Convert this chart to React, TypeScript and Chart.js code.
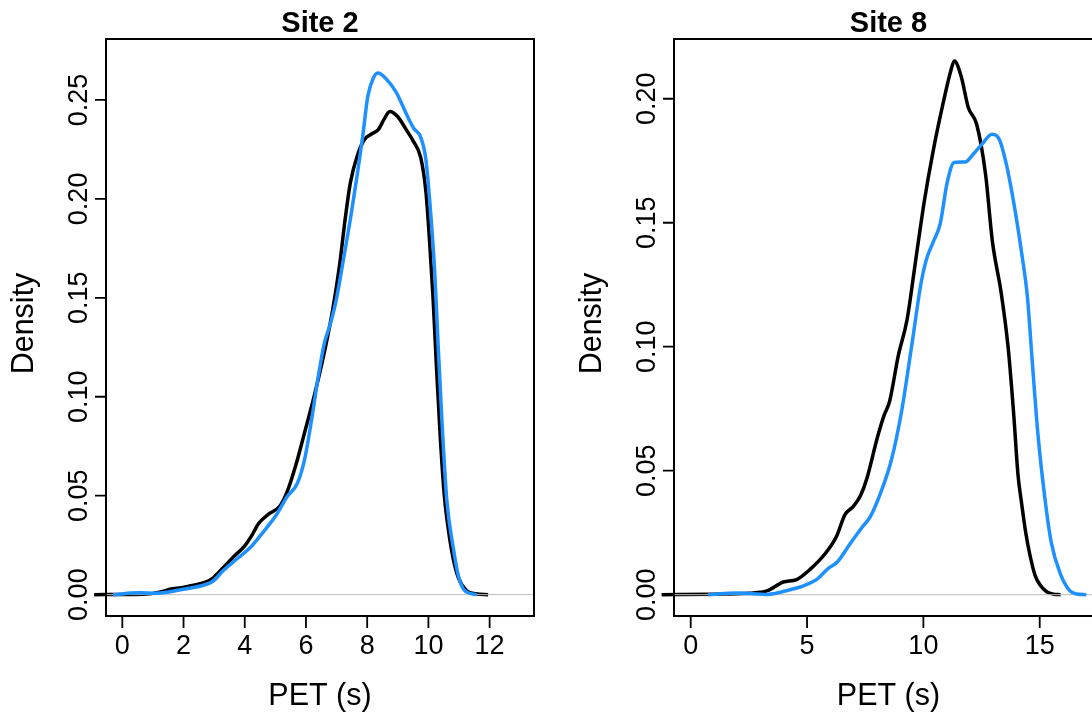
import React, { useEffect, useRef } from "react";
import { Chart, registerables } from "chart.js";

Chart.register(...registerables);

const FONT = '"Liberation Sans", Arial, Helvetica, sans-serif';
const BLUE = "#1E90FF";
const BLACK = "#000000";
const ZERO_LINE = "#BEBEBE";

// ---- Site 2: kernel density of PET (s) ----
const SITE2_BLACK_X = [-0.92, 0.3, 0.9, 1.3, 1.59, 1.93, 2.28, 2.74, 2.97, 3.31, 3.66, 4.0, 4.23, 4.46, 4.8, 5.15, 5.38, 5.67, 5.95, 6.3, 6.64, 6.87, 7.1, 7.28, 7.45, 7.68, 7.91, 8.14, 8.37, 8.54, 8.74, 9.0, 9.29, 9.52, 9.75, 9.92, 10.03, 10.15, 10.26, 10.38, 10.52, 10.66, 10.8, 10.98, 11.25, 11.55, 11.95];
const SITE2_BLACK_Y = [0, 0.0001, 0.0004, 0.0016, 0.0028, 0.0035, 0.0046, 0.0064, 0.0085, 0.0138, 0.0195, 0.0246, 0.0299, 0.0361, 0.0409, 0.0448, 0.0518, 0.0655, 0.0816, 0.1023, 0.1253, 0.1437, 0.1667, 0.1897, 0.2081, 0.2219, 0.23, 0.2328, 0.2351, 0.2399, 0.2442, 0.2415, 0.2346, 0.2288, 0.2208, 0.2035, 0.1805, 0.1506, 0.1161, 0.0816, 0.05, 0.032, 0.019, 0.0085, 0.002, 0.0004, 0];
const SITE2_BLUE_X = [-0.3, 0.55, 1.12, 1.99, 2.7, 2.97, 3.3, 3.77, 4.23, 4.57, 5.03, 5.38, 5.72, 5.95, 6.18, 6.41, 6.6, 6.8, 6.99, 7.22, 7.45, 7.68, 7.85, 8.02, 8.2, 8.35, 8.6, 8.94, 9.29, 9.52, 9.75, 9.92, 10.09, 10.21, 10.32, 10.44, 10.6, 10.82, 10.98, 11.2, 11.58];
const SITE2_BLUE_Y = [0, 0.0009, 0.0007, 0.0027, 0.005, 0.0069, 0.0122, 0.0184, 0.0246, 0.031, 0.0402, 0.0494, 0.0563, 0.068, 0.088, 0.111, 0.127, 0.137, 0.149, 0.169, 0.1897, 0.2127, 0.2311, 0.2518, 0.261, 0.2636, 0.261, 0.2541, 0.2426, 0.2357, 0.2311, 0.2196, 0.1897, 0.1621, 0.1253, 0.0885, 0.048, 0.0229, 0.0094, 0.0018, 0];
const SITE2_X_TICKS = [0, 2, 4, 6, 8, 10, 12];
const SITE2_Y_TICKS = [0, 0.05, 0.1, 0.15, 0.2, 0.25];

// ---- Site 8: kernel density of PET (s) ----
const SITE8_BLACK_X = [-1.25, 1.0, 2.5, 3.27, 3.98, 4.55, 5.13, 5.8, 6.27, 6.63, 6.99, 7.3, 7.57, 8.02, 8.3, 8.55, 8.92, 9.3, 9.67, 10.04, 10.42, 10.87, 11.17, 11.33, 11.62, 11.93, 12.29, 12.67, 12.97, 13.34, 13.64, 13.87, 14.07, 14.22, 14.4, 14.58, 14.8, 15.01, 15.3, 15.6, 15.9];
const SITE8_BLACK_Y = [0, 0.0002, 0.0006, 0.0015, 0.0051, 0.0061, 0.0102, 0.0168, 0.0236, 0.0323, 0.0356, 0.04, 0.0468, 0.0633, 0.072, 0.078, 0.0963, 0.111, 0.1349, 0.1587, 0.1789, 0.1991, 0.211, 0.2152, 0.2092, 0.1965, 0.1897, 0.1697, 0.1422, 0.122, 0.1, 0.0743, 0.048, 0.037, 0.025, 0.016, 0.0078, 0.004, 0.0012, 0.0002, 0];
const SITE8_BLUE_X = [0.75, 2.0, 3.3, 4.3, 4.9, 5.45, 5.9, 6.3, 6.85, 7.35, 7.72, 8.17, 8.62, 9.07, 9.52, 9.9, 10.12, 10.42, 10.72, 11.02, 11.32, 11.62, 11.8, 12.14, 12.52, 12.95, 13.27, 13.57, 13.94, 14.24, 14.47, 14.69, 14.92, 15.23, 15.5, 15.87, 16.3, 16.6, 17.0];
const SITE8_BLUE_Y = [0, 0.0007, 0.0001, 0.0021, 0.0038, 0.0064, 0.0105, 0.0132, 0.0205, 0.027, 0.0315, 0.0413, 0.0541, 0.0743, 0.1018, 0.1257, 0.1349, 0.1422, 0.1495, 0.1661, 0.1743, 0.1745, 0.1745, 0.1776, 0.1817, 0.1857, 0.1835, 0.1734, 0.155, 0.1367, 0.1202, 0.0927, 0.0651, 0.0383, 0.0209, 0.0088, 0.0015, 0.0003, 0];
const SITE8_X_TICKS = [0, 5, 10, 15];
const SITE8_Y_TICKS = [0, 0.05, 0.1, 0.15, 0.2];

const CANVAS_H = 715;

type PanelCfg = {
  title: string;
  canvasLeft: number;
  canvasWidth: number;
  boxLeft: number;
  boxRight: number;
  xMin: number;
  xMax: number;
  yMin: number;
  yMax: number;
  xTicks: number[];
  yTicks: number[];
  black: [number[], number[]];
  blue: [number[], number[]];
};

const PANELS: PanelCfg[] = [
  {
    title: "Site 2",
    canvasLeft: 0,
    canvasWidth: 546,
    boxLeft: 106,
    boxRight: 534,
    xMin: -0.533,
    xMax: 13.45,
    yMin: -0.0108,
    yMax: 0.2808,
    xTicks: SITE2_X_TICKS,
    yTicks: SITE2_Y_TICKS,
    black: [SITE2_BLACK_X, SITE2_BLACK_Y],
    blue: [SITE2_BLUE_X, SITE2_BLUE_Y],
  },
  {
    title: "Site 8",
    canvasLeft: 546,
    canvasWidth: 600,
    boxLeft: 128,
    boxRight: 557,
    xMin: -0.718,
    xMax: 17.72,
    yMin: -0.0086,
    yMax: 0.2241,
    xTicks: SITE8_X_TICKS,
    yTicks: SITE8_Y_TICKS,
    black: [SITE8_BLACK_X, SITE8_BLACK_Y],
    blue: [SITE8_BLUE_X, SITE8_BLUE_Y],
  },
];

const BOX_TOP = 39;
const BOX_BOTTOM = 616;

function toPoints(xs: number[], ys: number[]) {
  return xs.map((x, i) => ({ x, y: ys[i] }));
}

// Base-graphics style frame: box, outward ticks, rotated y labels, titles
function framePlugin(cfg: PanelCfg) {
  return {
    id: "baseFrame",
    afterDatasetDraw(chart: any, args: any) {
      // zero reference line sits above the first curve, below the second
      if (args.index !== 1) return;
      const { ctx, chartArea } = chart;
      const y0 = chart.scales.y.getPixelForValue(0);
      ctx.save();
      ctx.strokeStyle = ZERO_LINE;
      ctx.lineWidth = 1;
      ctx.beginPath();
      ctx.moveTo(chartArea.left, y0);
      ctx.lineTo(chartArea.right, y0);
      ctx.stroke();
      ctx.restore();
    },
    afterDraw(chart: any) {
      const { ctx, chartArea } = chart;
      const xs = chart.scales.x;
      const ys = chart.scales.y;
      const { left, right, top, bottom } = chartArea;
      ctx.save();
      ctx.strokeStyle = BLACK;
      ctx.lineWidth = 2;
      ctx.strokeRect(left, top, right - left, bottom - top);

      ctx.lineWidth = 1.8;
      ctx.beginPath();
      cfg.xTicks.forEach((v) => {
        const px = xs.getPixelForValue(v);
        ctx.moveTo(px, bottom);
        ctx.lineTo(px, bottom + 12);
      });
      cfg.yTicks.forEach((v) => {
        const py = ys.getPixelForValue(v);
        ctx.moveTo(left, py);
        ctx.lineTo(left - 11, py);
      });
      ctx.stroke();

      ctx.fillStyle = BLACK;
      ctx.font = `27px ${FONT}`;
      ctx.textAlign = "center";
      ctx.textBaseline = "alphabetic";
      cfg.xTicks.forEach((v) => {
        ctx.fillText(String(v), xs.getPixelForValue(v), 654);
      });
      cfg.yTicks.forEach((v) => {
        const py = ys.getPixelForValue(v);
        ctx.save();
        ctx.translate(left - 19, py);
        ctx.rotate(-Math.PI / 2);
        ctx.fillText(v.toFixed(2), 0, 0);
        ctx.restore();
      });

      const cx = (left + right) / 2;
      ctx.font = `30.5px ${FONT}`;
      ctx.fillText("PET (s)", cx, 705);
      ctx.save();
      ctx.translate(left - 73, (top + bottom) / 2 - 4);
      ctx.rotate(-Math.PI / 2);
      ctx.fillText("Density", 0, 0);
      ctx.restore();

      ctx.font = `bold 29px ${FONT}`;
      ctx.fillText(cfg.title, cx, 31.5);
      ctx.restore();
    },
  };
}

function Panel({ cfg }: { cfg: PanelCfg }) {
  const ref = useRef<HTMLCanvasElement | null>(null);

  useEffect(() => {
    if (!ref.current) return;
    const chart = new Chart(ref.current, {
      type: "line",
      data: {
        datasets: [
          {
            data: toPoints(cfg.blue[0], cfg.blue[1]),
            borderColor: BLUE,
            borderWidth: 3.5,
            pointRadius: 0,
            fill: false,
            cubicInterpolationMode: "monotone",
            clip: false as any,
          },
          {
            data: toPoints(cfg.black[0], cfg.black[1]),
            borderColor: BLACK,
            borderWidth: 3.5,
            pointRadius: 0,
            fill: false,
            cubicInterpolationMode: "monotone",
            clip: false as any,
          },
        ],
      },
      options: {
        responsive: false,
        animation: false,
        devicePixelRatio: 1,
        events: [],
        layout: {
          padding: {
            left: cfg.boxLeft,
            right: cfg.canvasWidth - cfg.boxRight,
            top: BOX_TOP,
            bottom: CANVAS_H - BOX_BOTTOM,
          },
        },
        scales: {
          x: { type: "linear", min: cfg.xMin, max: cfg.xMax, display: false },
          y: { type: "linear", min: cfg.yMin, max: cfg.yMax, display: false },
        },
        plugins: {
          legend: { display: false },
          tooltip: { enabled: false },
          title: { display: false },
        },
      },
      plugins: [framePlugin(cfg)],
    } as any);
    return () => chart.destroy();
  }, [cfg]);

  return (
    <canvas
      ref={ref}
      width={cfg.canvasWidth}
      height={CANVAS_H}
      style={{
        position: "absolute",
        left: cfg.canvasLeft,
        top: 0,
        width: cfg.canvasWidth,
        height: CANVAS_H,
      }}
    />
  );
}

export default function App() {
  return (
    <div
      style={{
        position: "fixed",
        left: 0,
        top: 0,
        width: 1092,
        height: CANVAS_H,
        overflow: "hidden",
        background: "#ffffff",
      }}
    >
      {PANELS.map((p) => (
        <Panel key={p.title} cfg={p} />
      ))}
    </div>
  );
}
